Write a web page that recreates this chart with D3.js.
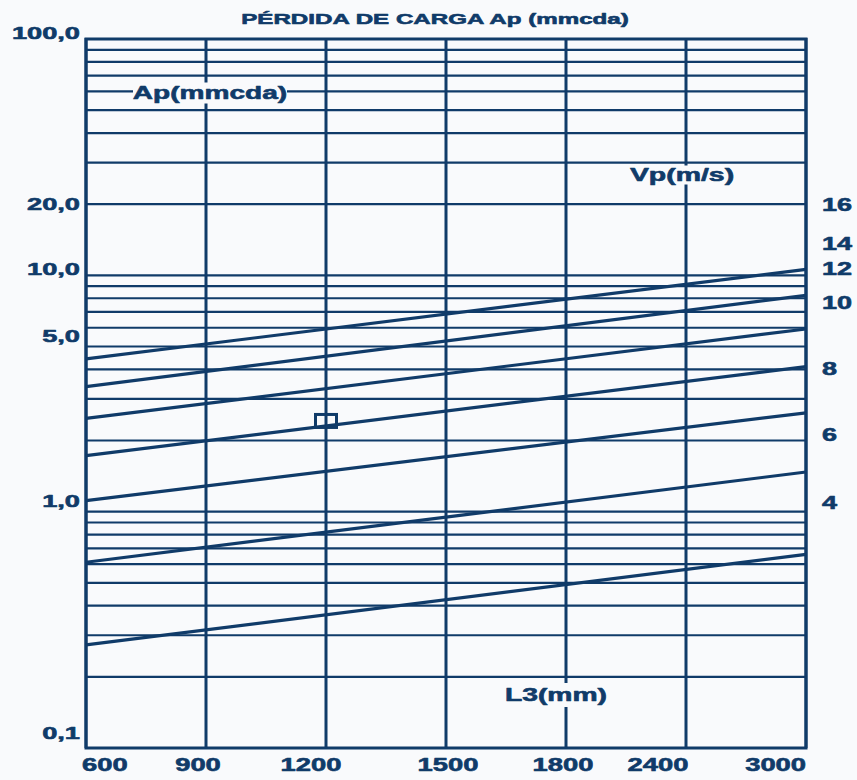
<!DOCTYPE html>
<html><head><meta charset="utf-8">
<script src="https://cdn.jsdelivr.net/npm/d3@7"></script>
<style>
html,body{margin:0;padding:0;background:#f9fafc;}
svg{display:block;}
</style></head>
<body>
<script>
// ---- data ----
const xTicks = [600, 900, 1200, 1500, 1800, 2400, 3000];          // L3 (mm)
const yGrid = [0.1,0.2,0.3,0.4,0.5,0.6,0.7,0.8,0.9,
               1,2,3,4,5,6,7,8,9,
               10,20,30,40,50,60,70,80,90,100];                      // Ap grid
const yTickValues = [100, 20, 10, 5, 1, 0.1];
const yTickText = ["100,0", "20,0", "10,0", "5,0", "1,0", "0,1"];
const lineL3 = [600, 3000];                                          // x of each line's two ends
const apLine1 = [4.43, 10.6];
const apLine2 = [3.38, 8.23];
const apLine3 = [2.48, 5.93];
const apLine4 = [1.725, 4.11];
const apLine5 = [1.113, 2.62];
const apLine6 = [0.611, 1.472];
const apLine7 = [0.273, 0.66];
const vpText = ["16", "14", "12", "10", "8", "6", "4"];             // Vp (m/s) labels
const vpAtAp = [19.9, 13.7, 10.7, 7.64, 4.02, 2.13, 1.094];         // Ap level of each Vp label
const markerL3 = 1200, markerAp = 2.42;

// ---- layout ----
const W = 857, H = 780;
const L = 86, R = 806, T = 39, B = 748;
const NAVY = "#103b69", BG = "#f9fafc";
const FONT = "'Liberation Sans', Arial, sans-serif";
const yLabelShift = [-6, 0, -6, -11, -11, -15];
const xLabelShift = [-4, -8, -15, 2, -3, -28, 0];

const svg = d3.select("body").append("svg").attr("width", W).attr("height", H);
svg.append("rect").attr("width", W).attr("height", H).attr("fill", BG);

const x = d3.scalePoint().domain(xTicks).range([L, R]).padding(0);
const y = d3.scaleLog().domain([0.1, 100]).range([B, T]);

function stext(px, py, str, size, anchor, sx) {
  const g = svg.append("g").attr("transform", `translate(${px},${py}) scale(${sx},1)`);
  return g.append("text").attr("x", 0).attr("y", 0).attr("dy", (0.36 * size) + "px")
    .attr("text-anchor", anchor).attr("font-family", FONT).attr("font-weight", "bold")
    .attr("font-size", size + "px").attr("fill", NAVY)
    .attr("stroke", NAVY).attr("stroke-width", 0.6).attr("stroke-linejoin", "round")
    .text(str);
}

// horizontal grid
svg.append("g").selectAll("line").data(yGrid).join("line")
  .attr("x1", L).attr("x2", R).attr("y1", d => y(d)).attr("y2", d => y(d))
  .attr("stroke", NAVY).attr("stroke-width", 2.2);

// vertical grid
svg.append("g").selectAll("line").data(xTicks).join("line")
  .attr("x1", d => x(d)).attr("x2", d => x(d)).attr("y1", T - 1).attr("y2", B)
  .attr("stroke", NAVY).attr("stroke-width", 3);

// border
svg.append("rect").attr("x", L).attr("y", T).attr("width", R - L).attr("height", B - T)
  .attr("fill", "none").attr("stroke", NAVY).attr("stroke-width", 3);

// diagonal lines
const series = [apLine1, apLine2, apLine3, apLine4, apLine5, apLine6, apLine7];
const lineGen = d3.line().x((d, i) => x(lineL3[i])).y(d => y(d));
svg.append("g").selectAll("path").data(series).join("path")
  .attr("d", d => lineGen(d)).attr("fill", "none")
  .attr("stroke", NAVY).attr("stroke-width", 3.2);

// marker square
svg.append("rect").attr("x", x(markerL3) - 10.5).attr("y", y(markerAp) - 6.5)
  .attr("width", 21).attr("height", 13).attr("fill", "none")
  .attr("stroke", NAVY).attr("stroke-width", 3);

// in-plot labels with background
function boxLabel(cx, cy, str, size, sx, bw, bh) {
  svg.append("rect").attr("x", cx - bw / 2).attr("y", cy - bh / 2)
    .attr("width", bw).attr("height", bh).attr("fill", BG);
  stext(cx, cy, str, size, "middle", sx);
}
boxLabel(210, 93, "Ap(mmcda)", 18, 1.56, 154, 21);
boxLabel(682, 175, "Vp(m/s)", 18, 1.58, 104, 19);
boxLabel(556, 695, "L3(mm)", 18, 1.57, 104, 24);

// title
stext(435, 19, "PÉRDIDA DE CARGA Ap (mmcda)", 15, "middle", 1.61);

// y tick labels
yTickValues.forEach((v, i) => stext(80, y(v) + yLabelShift[i], yTickText[i], 17, "end", 1.6));

// x tick labels
xTicks.forEach((v, i) => {
  const anchor = i === 0 ? "start" : (i === xTicks.length - 1 ? "end" : "middle");
  stext(x(v) + xLabelShift[i], 765, String(v), 18, anchor, 1.52);
});

// Vp labels on the right
vpText.forEach((t, i) => stext(822, y(vpAtAp[i]), t, 18, "start", 1.5));
</script>
</body></html>
